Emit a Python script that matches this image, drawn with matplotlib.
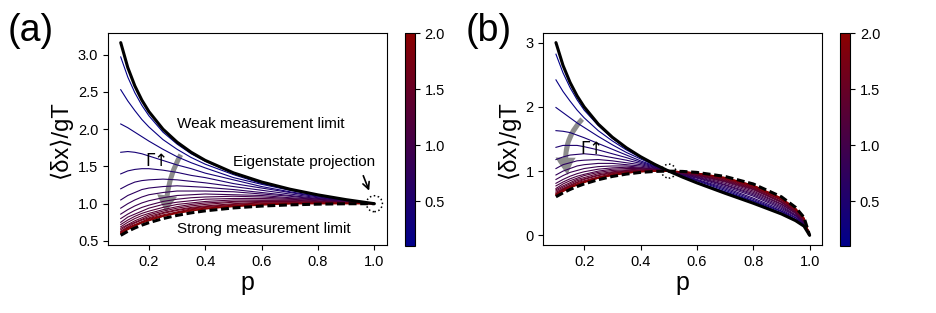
import matplotlib
matplotlib.use('Agg')
import matplotlib.pyplot as plt
from matplotlib.colors import LinearSegmentedColormap, Normalize
from matplotlib.patches import FancyArrowPatch, Ellipse
from matplotlib.cm import ScalarMappable

plt.rcParams['font.family'] = ['Liberation Sans', 'DejaVu Sans']

# ---------------- data ----------------
gamma_values = [0.1, 0.2, 0.3, 0.4, 0.5, 0.6, 0.7, 0.8, 0.9, 1.0,
                1.1, 1.2, 1.3, 1.4, 1.5, 1.6, 1.7, 1.8, 1.9, 2.0]
cbar_ticks = [0.5, 1.0, 1.5, 2.0]

# panel (a)
p_a = [0.1, 0.125, 0.15, 0.175, 0.2, 0.25, 0.3, 0.35, 0.4, 0.5, 0.6, 0.7, 0.8, 0.9, 1.0]
weak_a = [3.162, 2.828, 2.582, 2.390, 2.236, 2.000, 1.826, 1.690, 1.581, 1.414, 1.291, 1.195, 1.118, 1.054, 1.000]
strong_a = [0.575, 0.629, 0.674, 0.712, 0.745, 0.800, 0.843, 0.877, 0.904, 0.943, 0.968, 0.984, 0.994, 0.999, 1.000]
curves_a = [
    [2.97, 2.70, 2.49, 2.32, 2.18, 1.96, 1.80, 1.67, 1.57, 1.41, 1.29, 1.19, 1.12, 1.05, 1.00],
    [2.53, 2.38, 2.25, 2.13, 2.03, 1.86, 1.73, 1.62, 1.53, 1.39, 1.27, 1.19, 1.11, 1.05, 1.00],
    [2.07, 2.02, 1.96, 1.90, 1.84, 1.73, 1.63, 1.55, 1.48, 1.35, 1.26, 1.18, 1.11, 1.05, 1.00],
    [1.69, 1.70, 1.69, 1.67, 1.64, 1.58, 1.52, 1.47, 1.41, 1.32, 1.23, 1.16, 1.10, 1.05, 1.00],
    [1.40, 1.44, 1.46, 1.47, 1.47, 1.45, 1.42, 1.38, 1.35, 1.27, 1.21, 1.15, 1.09, 1.04, 1.00],
    [1.20, 1.25, 1.29, 1.31, 1.32, 1.33, 1.32, 1.30, 1.28, 1.23, 1.18, 1.13, 1.08, 1.04, 1.00],
    [1.05, 1.11, 1.15, 1.19, 1.21, 1.23, 1.24, 1.23, 1.22, 1.19, 1.15, 1.11, 1.07, 1.04, 1.00],
    [0.94, 1.00, 1.05, 1.09, 1.12, 1.15, 1.17, 1.17, 1.17, 1.16, 1.13, 1.10, 1.06, 1.03, 1.00],
    [0.86, 0.92, 0.97, 1.01, 1.04, 1.08, 1.11, 1.12, 1.13, 1.12, 1.11, 1.08, 1.06, 1.03, 1.00],
    [0.80, 0.86, 0.91, 0.95, 0.98, 1.03, 1.06, 1.08, 1.09, 1.10, 1.09, 1.07, 1.05, 1.02, 1.00],
    [0.75, 0.82, 0.86, 0.90, 0.94, 0.99, 1.02, 1.04, 1.06, 1.07, 1.07, 1.06, 1.04, 1.02, 1.00],
    [0.72, 0.78, 0.83, 0.87, 0.90, 0.95, 0.99, 1.01, 1.03, 1.05, 1.05, 1.05, 1.03, 1.02, 1.00],
    [0.69, 0.75, 0.80, 0.84, 0.87, 0.92, 0.96, 0.99, 1.01, 1.03, 1.04, 1.04, 1.03, 1.01, 1.00],
    [0.67, 0.72, 0.77, 0.81, 0.85, 0.90, 0.94, 0.97, 0.99, 1.02, 1.03, 1.03, 1.02, 1.01, 1.00],
    [0.65, 0.71, 0.75, 0.79, 0.83, 0.88, 0.92, 0.95, 0.97, 1.00, 1.02, 1.02, 1.02, 1.01, 1.00],
    [0.63, 0.69, 0.74, 0.78, 0.81, 0.87, 0.91, 0.94, 0.96, 0.99, 1.01, 1.01, 1.01, 1.01, 1.00],
    [0.62, 0.68, 0.72, 0.76, 0.80, 0.85, 0.89, 0.93, 0.95, 0.98, 1.00, 1.01, 1.01, 1.01, 1.00],
    [0.61, 0.67, 0.71, 0.75, 0.79, 0.84, 0.88, 0.92, 0.94, 0.97, 0.99, 1.00, 1.01, 1.01, 1.00],
    [0.60, 0.66, 0.71, 0.75, 0.78, 0.83, 0.88, 0.91, 0.93, 0.97, 0.99, 1.00, 1.00, 1.00, 1.00],
    [0.60, 0.65, 0.70, 0.74, 0.77, 0.83, 0.87, 0.90, 0.93, 0.96, 0.98, 1.00, 1.00, 1.00, 1.00],
]

# panel (b)
p_b = [0.1, 0.125, 0.15, 0.175, 0.2, 0.25, 0.3, 0.35, 0.4, 0.45, 0.5,
       0.55, 0.6, 0.7, 0.8, 0.9, 0.95, 0.98, 1.0]
weak_b = [3.000, 2.646, 2.381, 2.171, 2.000, 1.732, 1.528, 1.363, 1.225, 1.106, 1.000,
          0.905, 0.817, 0.655, 0.500, 0.333, 0.229, 0.143, 0.000]
strong_b = [0.600, 0.661, 0.714, 0.760, 0.800, 0.866, 0.917, 0.954, 0.980, 0.995, 1.000,
            0.995, 0.980, 0.917, 0.800, 0.600, 0.436, 0.280, 0.000]
curves_b = [
    [2.82, 2.53, 2.30, 2.11, 1.95, 1.71, 1.51, 1.35, 1.22, 1.10, 1.00, 0.91, 0.82, 0.66, 0.50, 0.34, 0.23, 0.14, 0.00],
    [2.42, 2.24, 2.09, 1.95, 1.83, 1.63, 1.47, 1.33, 1.21, 1.10, 1.00, 0.91, 0.82, 0.67, 0.51, 0.34, 0.24, 0.15, 0.00],
    [1.99, 1.91, 1.83, 1.75, 1.68, 1.54, 1.41, 1.29, 1.19, 1.09, 1.00, 0.92, 0.83, 0.68, 0.53, 0.35, 0.24, 0.15, 0.00],
    [1.63, 1.62, 1.60, 1.56, 1.52, 1.43, 1.34, 1.25, 1.16, 1.08, 1.00, 0.92, 0.85, 0.70, 0.54, 0.37, 0.25, 0.16, 0.00],
    [1.37, 1.40, 1.40, 1.40, 1.38, 1.33, 1.27, 1.21, 1.14, 1.07, 1.00, 0.93, 0.86, 0.72, 0.56, 0.38, 0.27, 0.17, 0.00],
    [1.18, 1.22, 1.25, 1.26, 1.27, 1.25, 1.21, 1.17, 1.12, 1.06, 1.00, 0.94, 0.87, 0.74, 0.58, 0.40, 0.28, 0.18, 0.00],
    [1.04, 1.10, 1.13, 1.16, 1.17, 1.18, 1.16, 1.13, 1.10, 1.05, 1.00, 0.94, 0.89, 0.76, 0.61, 0.42, 0.30, 0.19, 0.00],
    [0.94, 1.00, 1.04, 1.08, 1.10, 1.12, 1.12, 1.10, 1.08, 1.04, 1.00, 0.95, 0.90, 0.78, 0.63, 0.44, 0.31, 0.20, 0.00],
    [0.87, 0.93, 0.98, 1.01, 1.04, 1.07, 1.08, 1.08, 1.06, 1.03, 1.00, 0.96, 0.91, 0.79, 0.65, 0.46, 0.32, 0.20, 0.00],
    [0.81, 0.87, 0.92, 0.96, 0.99, 1.03, 1.05, 1.06, 1.05, 1.03, 1.00, 0.96, 0.92, 0.81, 0.67, 0.48, 0.34, 0.21, 0.00],
    [0.77, 0.83, 0.88, 0.92, 0.95, 1.00, 1.03, 1.04, 1.04, 1.02, 1.00, 0.97, 0.93, 0.83, 0.69, 0.49, 0.35, 0.22, 0.00],
    [0.73, 0.80, 0.85, 0.89, 0.93, 0.98, 1.01, 1.02, 1.03, 1.02, 1.00, 0.97, 0.94, 0.84, 0.71, 0.51, 0.36, 0.23, 0.00],
    [0.71, 0.77, 0.82, 0.87, 0.90, 0.96, 0.99, 1.01, 1.02, 1.01, 1.00, 0.98, 0.94, 0.85, 0.72, 0.52, 0.37, 0.24, 0.00],
    [0.69, 0.75, 0.80, 0.85, 0.88, 0.94, 0.98, 1.00, 1.01, 1.01, 1.00, 0.98, 0.95, 0.86, 0.73, 0.53, 0.38, 0.24, 0.00],
    [0.67, 0.73, 0.78, 0.83, 0.87, 0.93, 0.97, 0.99, 1.01, 1.01, 1.00, 0.98, 0.96, 0.87, 0.74, 0.55, 0.39, 0.25, 0.00],
    [0.65, 0.72, 0.77, 0.82, 0.85, 0.91, 0.96, 0.99, 1.00, 1.01, 1.00, 0.99, 0.96, 0.88, 0.75, 0.55, 0.40, 0.26, 0.00],
    [0.64, 0.71, 0.76, 0.80, 0.84, 0.90, 0.95, 0.98, 1.00, 1.00, 1.00, 0.99, 0.96, 0.89, 0.76, 0.56, 0.41, 0.26, 0.00],
    [0.64, 0.70, 0.75, 0.80, 0.83, 0.90, 0.94, 0.97, 0.99, 1.00, 1.00, 0.99, 0.97, 0.89, 0.77, 0.57, 0.41, 0.26, 0.00],
    [0.63, 0.69, 0.74, 0.79, 0.83, 0.89, 0.94, 0.97, 0.99, 1.00, 1.00, 0.99, 0.97, 0.90, 0.78, 0.58, 0.42, 0.27, 0.00],
    [0.62, 0.68, 0.74, 0.78, 0.82, 0.89, 0.93, 0.97, 0.99, 1.00, 1.00, 0.99, 0.97, 0.90, 0.78, 0.58, 0.42, 0.27, 0.00],
]

# ---------------- figure ----------------
cmap = LinearSegmentedColormap.from_list('blue_red', ['#00008B', '#8B0000'])
norm = Normalize(gamma_values[0], gamma_values[-1])

fig = plt.figure(figsize=(9.37, 3.13), dpi=100)
ax_a = fig.add_axes([0.1153, 0.2173, 0.2978, 0.6773])
ax_b = fig.add_axes([0.5798, 0.2173, 0.2978, 0.6773])
cax_a = fig.add_axes([0.4317, 0.214, 0.0112, 0.6805])
cax_b = fig.add_axes([0.896, 0.214, 0.0112, 0.6805])

for ax, pp, cs, W, S in [(ax_a, p_a, curves_a, weak_a, strong_a),
                         (ax_b, p_b, curves_b, weak_b, strong_b)]:
    for G, c in zip(gamma_values, cs):
        ax.plot(pp, c, color=cmap(norm(G)), lw=0.8)
    ax.plot(pp, W, color='k', lw=2.2, solid_capstyle='round')
    ax.plot(pp, S, color='k', lw=2.2, dashes=(2.6, 1.2))
    ax.set_xticks([0.2, 0.4, 0.6, 0.8, 1.0])
    ax.tick_params(labelsize=10.5)
    ax.set_xlabel('p', fontsize=18, labelpad=2)
    ax.set_ylabel('⟨δx⟩/gT', fontsize=17, labelpad=4)

ax_a.set_yticks([0.5, 1.0, 1.5, 2.0, 2.5, 3.0])
ax_b.set_yticks([0, 1, 2, 3])

for cax in (cax_a, cax_b):
    cb_ = fig.colorbar(ScalarMappable(norm=norm, cmap=cmap), cax=cax)
    cb_.set_ticks(cbar_ticks)
    cb_.ax.tick_params(labelsize=10.5)
    cb_.outline.set_linewidth(0.8)

fig.text(0.008, 0.90, '(a)', fontsize=27, va='center')
fig.text(0.497, 0.90, '(b)', fontsize=27, va='center')

ax_a.text(0.2985, 2.064, 'Weak measurement limit', fontsize=11, va='center')
ax_a.text(0.4987, 1.56, 'Eigenstate projection', fontsize=11, va='center')
ax_a.text(0.2985, 0.66, 'Strong measurement limit', fontsize=11, va='center')
ax_a.text(0.227, 1.57, 'Γ↑', fontsize=12, ha='center', va='center', family=['DejaVu Sans'])
ax_b.text(0.229, 1.35, 'Γ↑', fontsize=12, ha='center', va='center', family=['DejaVu Sans'])

style = 'simple,tail_width=0.36,head_width=1.45,head_length=1.25'
ax_a.add_patch(FancyArrowPatch((0.318, 1.69), (0.262, 0.84), connectionstyle='arc3,rad=0.15',
                               arrowstyle=style, mutation_scale=10, lw=0, color='0.55'))
ax_b.add_patch(FancyArrowPatch((0.2, 1.84), (0.145, 0.9), connectionstyle='arc3,rad=0.3',
                               arrowstyle=style, mutation_scale=10, lw=0, color='0.55'))
ax_a.add_patch(FancyArrowPatch((0.957, 1.41), (0.985, 1.14), arrowstyle='->', mutation_scale=12,
                               lw=1.2, color='k'))
ax_a.add_patch(Ellipse((1.0, 1.0), 0.057, 0.214, fill=False, ls=':', lw=1.1, ec='k'))
ax_b.add_patch(Ellipse((0.5, 1.0), 0.05, 0.217, fill=False, ls=':', lw=1.1, ec='k'))

fig.savefig('out.png', dpi=100)
